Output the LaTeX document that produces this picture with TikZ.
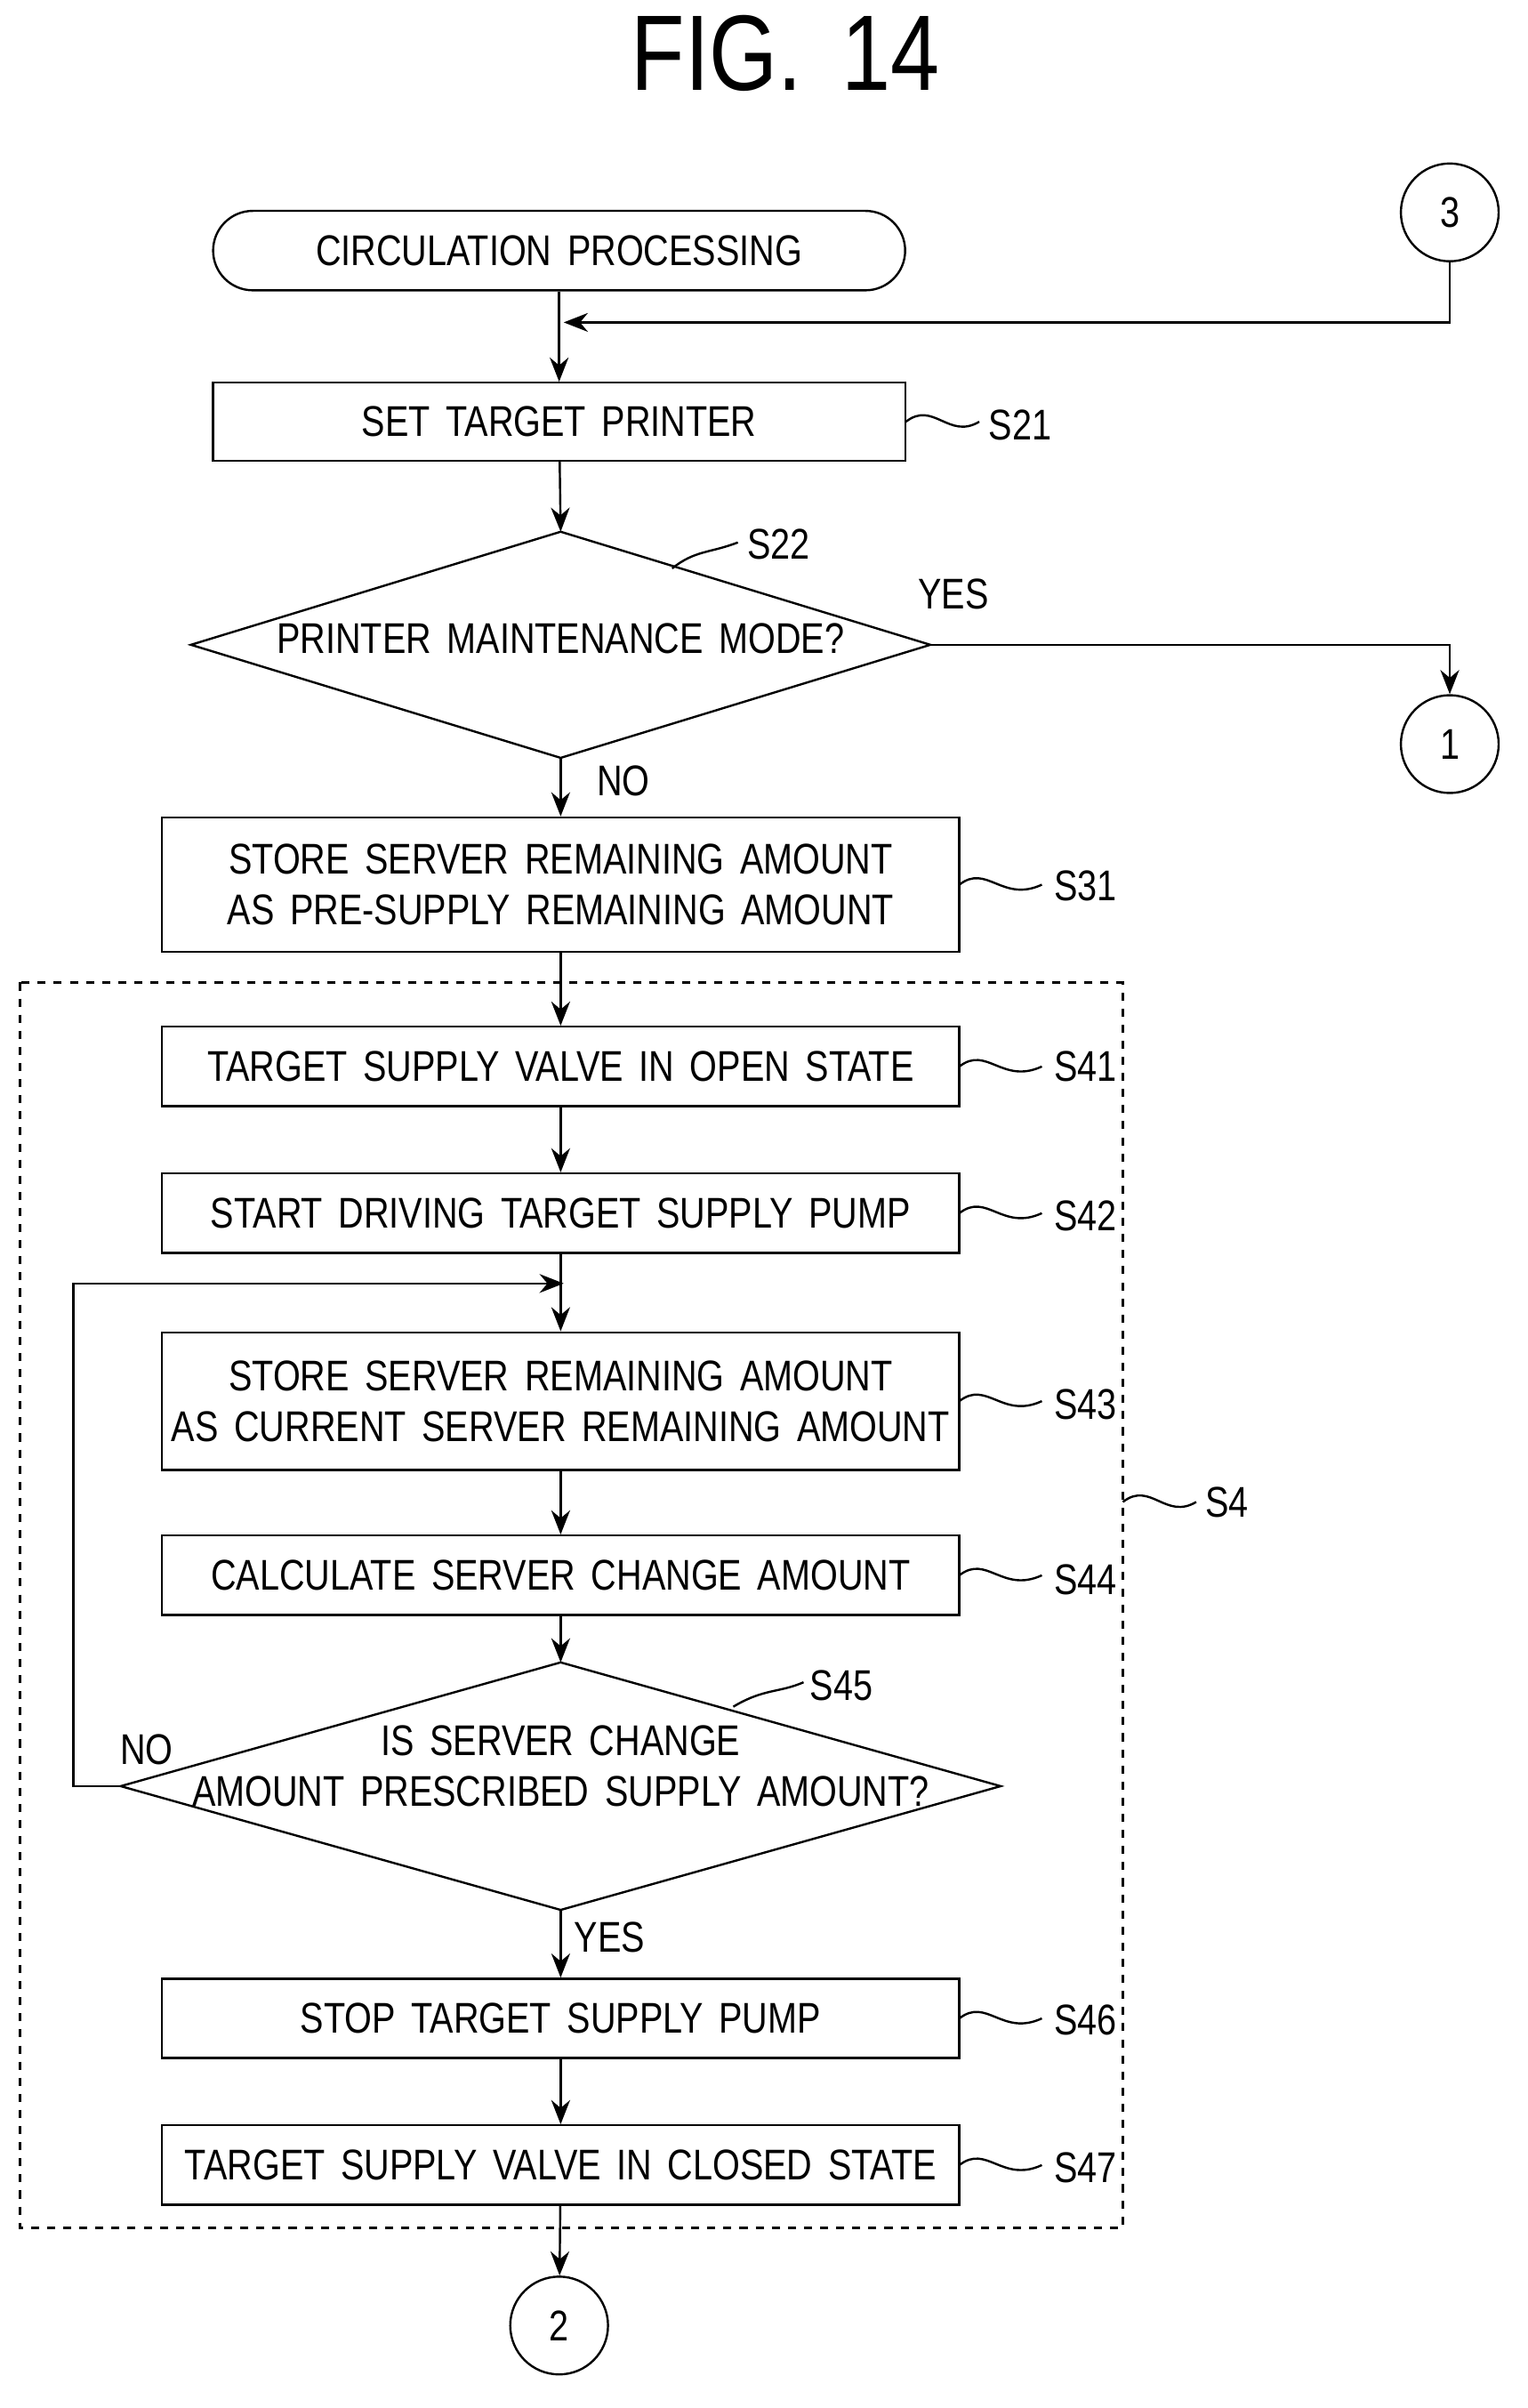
\documentclass[tikz,border=0pt]{standalone}
\usepackage{fontspec}
\setmainfont[FakeStretch=0.82,WordSpace=1.6]{Liberation Sans}
\usetikzlibrary{arrows.meta}
\tikzset{
  box/.style={draw,thick,minimum width=522*0.02cm,align=center,inner sep=0pt},
  conn/.style={draw,thick,circle,minimum size=64*0.02cm,inner sep=0pt},
  arr/.style={thick,-{Stealth[length=9pt,width=7pt]}},
  tag/.style={font=\fontsize{16}{19}\selectfont,anchor=west},
}
\newcommand{\squig}[3]{\draw[thick] (#1,#2) .. controls (#1+18,#2-14) and (#1+28,#2+12) .. (#1+#3,#2);}
% diamond by its corners: name, cx, cy, half width, half height
\newcommand{\dmd}[5]{%
  \coordinate (#1-n) at (#2,#3-#5); \coordinate (#1-s) at (#2,#3+#5);
  \coordinate (#1-w) at (#2-#4,#3); \coordinate (#1-e) at (#2+#4,#3);
  \draw[thick] (#1-n) -- (#1-e) -- (#1-s) -- (#1-w) -- cycle;}
\begin{document}
\begin{tikzpicture}[x=0.02cm,y=-0.02cm,font=\fontsize{16}{19}\selectfont]
\useasboundingbox (0,0) rectangle (1000,1576);
\node[font=\fontsize{40}{44}\selectfont] (title) at (514,35) {FIG. 14};
% start and connectors
\node[draw,thick,rounded corners=26*0.02cm,minimum width=453*0.02cm,minimum height=52*0.02cm] (start) at (366,164) {CIRCULATION PROCESSING};
\node[conn] (c3) at (949,139) {3};
\node[conn] (c1) at (949,487) {1};
\node[conn] (c2) at (366,1522) {2};
% steps
\node[box,minimum width=453*0.02cm,minimum height=51*0.02cm] (s21) at (366,276) {SET TARGET PRINTER};
\dmd{s22}{367}{422}{242}{74}
\node[align=center] (s22t) at (367,418) {PRINTER MAINTENANCE MODE?};
\node[box,minimum height=88*0.02cm] (s31) at (367,579) {STORE SERVER REMAINING AMOUNT\\AS PRE-SUPPLY REMAINING AMOUNT};
\node[box,minimum height=52*0.02cm] (s41) at (367,698) {TARGET SUPPLY VALVE IN OPEN STATE};
\node[box,minimum height=52*0.02cm] (s42) at (367,794) {START DRIVING TARGET SUPPLY PUMP};
\node[box,minimum height=90*0.02cm] (s43) at (367,917) {STORE SERVER REMAINING AMOUNT\\AS CURRENT SERVER REMAINING AMOUNT};
\node[box,minimum height=52*0.02cm] (s44) at (367,1031) {CALCULATE SERVER CHANGE AMOUNT};
\dmd{s45}{367}{1169}{288}{81}
\node[align=center] (s45t) at (367,1156) {IS SERVER CHANGE\\AMOUNT PRESCRIBED SUPPLY AMOUNT?};
\node[box,minimum height=52*0.02cm] (s46) at (367,1321) {STOP TARGET SUPPLY PUMP};
\node[box,minimum height=52*0.02cm] (s47) at (367,1417) {TARGET SUPPLY VALVE IN CLOSED STATE};
\draw[thick,dashed] (13,643) rectangle (735,1458);
% connectors
\coordinate (j1) at (369,211);
\coordinate (j2) at (369,840);
\draw[arr] (start) -- (s21);
\draw[arr] (c3) |- (j1);
\draw[arr] (s21) -- (s22-n);
\draw[arr] (s22-e) -| (c1);
\draw[arr] (s22-s) -- (s31);
\draw[arr] (s31) -- (s41);
\draw[arr] (s41) -- (s42);
\draw[arr] (s42) -- (s43);
\draw[arr] (s43) -- (s44);
\draw[arr] (s44) -- (s45-n);
\draw[arr] (s45-w) -- (48,1169) |- (j2);
\draw[arr] (s45-s) -- (s46);
\draw[arr] (s46) -- (s47);
\draw[arr] (s47) -- (c2);
% labels
\node at (624,389) {YES};
\node at (408,511) {NO};
\node at (96,1145) {NO};
\node at (399,1268) {YES};
\squig{593}{276}{48}\node[tag] at (641,278) {S21};
\draw[thick] (440,372) .. controls (455,360) and (465,362) .. (483,355);\node[tag] at (483,356) {S22};
\squig{628}{579}{54}\node[tag] at (684,580) {S31};
\squig{628}{698}{54}\node[tag] at (684,698) {S41};
\squig{628}{794}{54}\node[tag] at (684,796) {S42};
\squig{628}{917}{54}\node[tag] at (684,919) {S43};
\squig{628}{1031}{54}\node[tag] at (684,1034) {S44};
\draw[thick] (480,1117) .. controls (500,1105) and (510,1108) .. (526,1101);\node[tag] at (524,1103) {S45};
\squig{628}{1321}{54}\node[tag] at (684,1322) {S46};
\squig{628}{1417}{54}\node[tag] at (684,1419) {S47};
\squig{735}{983}{48}\node[tag] at (783,983) {S4};
\end{tikzpicture}
\end{document}
